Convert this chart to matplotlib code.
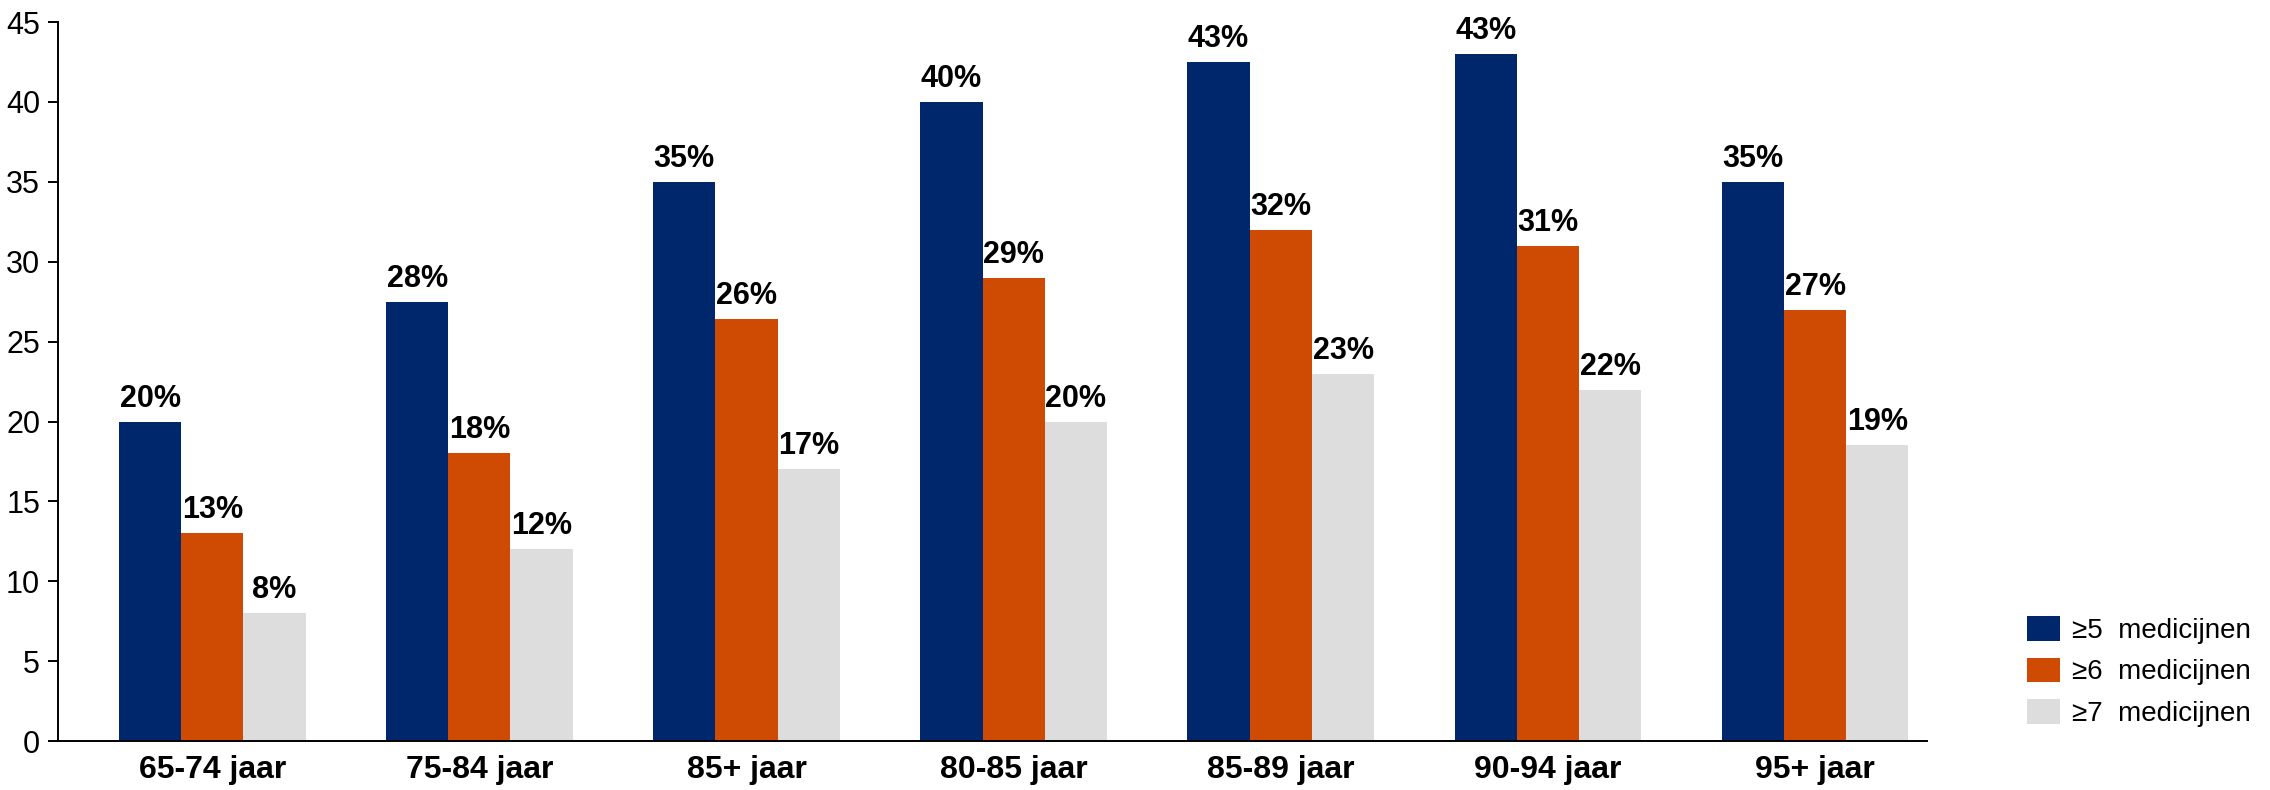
import numpy as np
import matplotlib
matplotlib.use("Agg")
import matplotlib.pyplot as plt
from matplotlib.patches import Patch

plt.rcParams['font.family'] = ['Liberation Sans Narrow', 'Liberation Sans', 'DejaVu Sans']

groups = ["65-74 jaar", "75-84 jaar", "85+ jaar", "80-85 jaar",
          "85-89 jaar", "90-94 jaar", "95+ jaar"]
series_names = ["≥5  medicijnen", "≥6  medicijnen", "≥7  medicijnen"]
med5 = [20, 27.5, 35, 40, 42.5, 43, 35]
med6 = [13, 18, 26.4, 29, 32, 31, 27]
med7 = [8, 12, 17, 20, 23, 22, 18.5]
colors = ["#00266B", "#CF4A03", "#DDDDDD"]

fig = plt.figure(figsize=(22.7, 7.9), dpi=100)
ax = fig.add_axes([0.0256, 0.062, 0.8234, 0.910])

x = np.arange(len(groups))
w = 0.233
for k, vals in enumerate([med5, med6, med7]):
    pos = x + (k - 1) * w
    ax.bar(pos, vals, width=w, color=colors[k], linewidth=0)
    for px, v in zip(pos, vals):
        ax.text(px, v + 0.5, f"{int(v + 0.5)}%", ha="center", va="bottom",
                fontsize=22, fontweight="bold")

ax.set_xlim(-0.577, 6.42)
ax.set_ylim(0, 45)
ax.set_yticks(range(0, 46, 5))
ax.tick_params(axis="y", labelsize=22, length=7, width=1.4, direction="out", pad=6)
ax.tick_params(axis="x", length=0, pad=10)
ax.set_xticks(x)
ax.set_xticklabels(groups, fontsize=23, fontweight="bold")
for s in ["top", "right"]:
    ax.spines[s].set_visible(False)
for s in ["left", "bottom"]:
    ax.spines[s].set_linewidth(1.4)

handles = [Patch(facecolor=c, edgecolor="none") for c in colors]
leg = fig.legend(handles, series_names, loc="center left",
                 bbox_to_anchor=(0.882, 0.150), frameon=False,
                 prop={"family": ["Liberation Sans", "DejaVu Sans"], "size": 20},
                 handlelength=1.2, handleheight=1.0, handletextpad=0.4,
                 labelspacing=0.5)

fig.savefig("out.png", dpi=100)
